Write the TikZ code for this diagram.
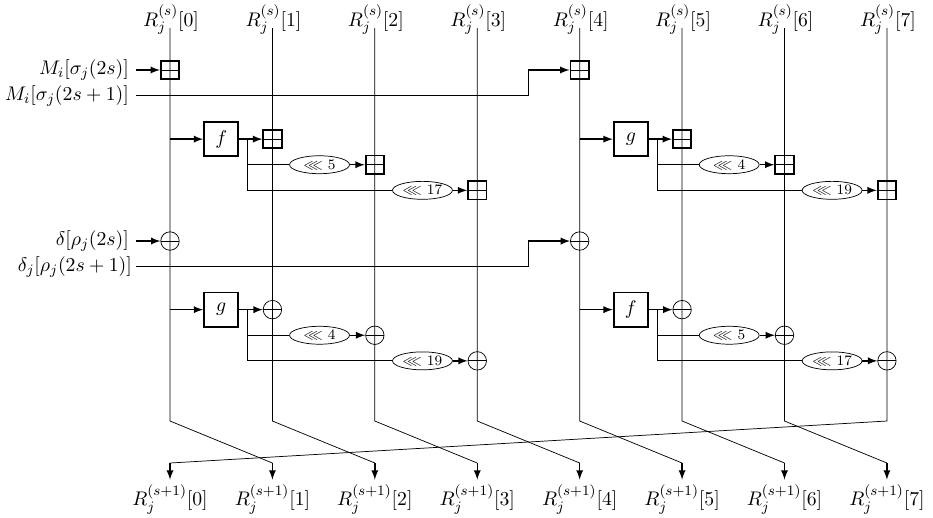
\documentclass[tikz,border=0pt]{standalone}
\usepackage{amsmath}
\usepackage{amsfonts}
\usepackage{amssymb}
\usetikzlibrary{shapes.geometric}
\tikzset{
  every node/.style={font=\fontsize{10.95}{13}\selectfont},
  fnbox/.style={draw,line width=1pt,minimum size=0.67cm,inner sep=0pt},
  addbox/.style={draw,line width=1pt,rectangle,minimum size=0.36cm,inner sep=0pt,
    path picture={\draw[thin] (path picture bounding box.west)--(path picture bounding box.east);}},
  xorbox/.style={draw,circle,minimum size=0.36cm,inner sep=0pt,
    path picture={\draw[thin] (path picture bounding box.west)--(path picture bounding box.east);}},
  rotbox/.style={draw,ellipse,minimum width=1.17cm,minimum height=0.35cm,inner sep=0pt,font=\fontsize{8}{9.5}\selectfont},
  feed/.style={thick,-latex}
}
\begin{document}
\begin{tikzpicture}
        \useasboundingbox (-3.32,1.367) rectangle (14.9,-8.73);
        % state words, top to bottom
        \foreach \i in {0,...,7}{
            \pgfmathtruncatemacro{\nxt}{mod(\i+1,8)}
            \node (top\i) at ({2*\i+0.02},0.98) {$R_j^{(s)}[\i]$};
            \node[anchor=north,inner sep=2.5pt] (bot\i) at ({2*\i},-8) {$R_j^{(s+1)}[\i]$};
            \coordinate (start\i) at ({2*\i},0.82);
            \coordinate (bend\i) at ({2*\i},-6.855);
            \coordinate (land\nxt) at ({2*\nxt},-7.675);
        }
        \foreach \i in {0,...,7}{
            \pgfmathtruncatemacro{\nxt}{mod(\i+1,8)}
            \draw (start\i)--(bend\i)--(land\nxt);
            \draw[feed] (land\nxt)--(bot\nxt.north);
        }
        % message and constant inputs
        \foreach \k/\cx/\y/\op in {1/0/0/addbox, 2/8/0/addbox, 3/0/-3.34/xorbox, 4/8/-3.34/xorbox}{
            \node[\op] (in\k) at (\cx,\y) {};
        }
        \node[anchor=east,inner sep=3.9pt] (ma) at (-0.66,0) {$M_i[\sigma_j(2s)]$};
        \node[anchor=east,inner sep=3.9pt] (mb) at (-0.66,-0.5) {$M_i[\sigma_j(2s+1)]$};
        \node[anchor=east,inner sep=3.9pt] (da) at (-0.66,-3.34) {$\delta[\rho_j(2s)]$};
        \node[anchor=east,inner sep=2.2pt] (db) at (-0.66,-3.84) {$\delta_j[\rho_j(2s+1)]$};
        \coordinate (turnm) at (7,0);
        \coordinate (turnd) at (7,-3.34);
        \draw[feed] (ma.east)--(in1.west);
        \draw[feed] (da.east)--(in3.west);
        \draw (mb.east)-|(turnm);
        \draw (db.east)-|(turnd);
        \draw[feed] (turnm)--(in2.west);
        \draw[feed] (turnd)--(in4.west);
        % the four function blocks
        \foreach \k/\cx/\y/\fn/\ra/\rb/\op in {1/0/-1.35/f/5/17/addbox, 2/8/-1.35/g/4/19/addbox, 3/0/-4.68/g/4/19/xorbox, 4/8/-4.68/f/5/17/xorbox}{
            \coordinate (tap\k) at (\cx,\y);
            \coordinate (branch\k) at ({\cx+1.51},\y);
            \node[fnbox] (fn\k) at ({\cx+1},\y) {$\fn$};
            \node[\op] (opa\k) at ({\cx+2},\y) {};
            \node[\op] (opb\k) at ({\cx+4},{\y-0.5}) {};
            \node[\op] (opc\k) at ({\cx+6},{\y-1}) {};
            \node[rotbox] (rota\k) at ({\cx+2.92},{\y-0.5}) {$\lll$\ \ra};
            \node[rotbox] (rotb\k) at ({\cx+4.93},{\y-1}) {$\lll$\ \rb};
            \draw[feed] (tap\k)--(fn\k.west);
            \draw[feed] (fn\k.east)--(opa\k.west);
            \draw (branch\k)|-(rota\k.west);
            \draw (branch\k)|-(rotb\k.west);
            \draw[feed] (rota\k.east)--(opb\k.west);
            \draw[feed] (rotb\k.east)--(opc\k.west);
        }
    \end{tikzpicture}
\end{document}
